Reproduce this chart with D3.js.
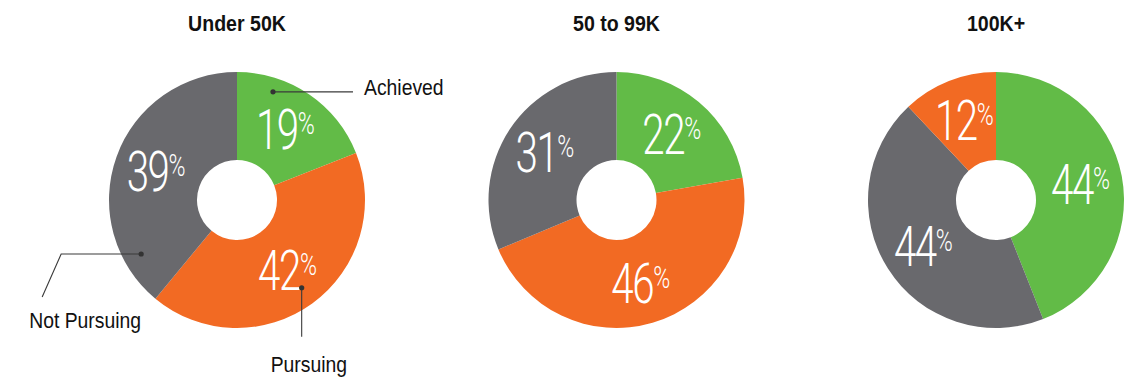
<!DOCTYPE html>
<html>
<head>
<meta charset="utf-8">
<script src="https://cdn.jsdelivr.net/npm/d3@7"></script>
<style>
  body { margin: 0; background: #fff; }
</style>
</head>
<body>
<div id="chart"></div>
<script>
// income groups, one donut each
const groups = ["Under 50K", "50 to 99K", "100K+"];
const categories = ["Achieved", "Pursuing", "Not Pursuing"];

// share (%) per category, same order as categories
const under50k = [19, 42, 39];
const from50to99k = [22, 46, 31];
const over100k = [44, 12, 44];

// clockwise order of the slices, starting at 12 o'clock
const sliceOrder = [
  ["Achieved", "Pursuing", "Not Pursuing"],
  ["Achieved", "Pursuing", "Not Pursuing"],
  ["Achieved", "Not Pursuing", "Pursuing"]
];

const width = 1135;
const height = 379;
const outerR = 128;
const innerR = 40;
const centerY = 200;

const color = d3.scaleOrdinal()
  .domain(categories)
  .range(["#62bb47", "#f26a23", "#69696d"]);

const xPos = d3.scalePoint()
  .domain(groups)
  .range([237, 996]);

const svg = d3.select("#chart")
  .append("svg")
  .attr("width", width)
  .attr("height", height);

const pie = d3.pie().sort(null).value(d => d.value);
const arc = d3.arc().innerRadius(innerR).outerRadius(outerR);
const labelArc = d3.arc().innerRadius(86).outerRadius(86);

const values = [under50k, from50to99k, over100k];

groups.forEach((g, i) => {
  const data = sliceOrder[i].map(c => ({
    category: c,
    value: values[i][categories.indexOf(c)]
  }));

  const donut = svg.append("g")
    .attr("transform", `translate(${xPos(g)},${centerY})`);

  donut.selectAll("path")
    .data(pie(data))
    .enter()
    .append("path")
    .attr("d", arc)
    .attr("fill", d => color(d.data.category));

  const labels = donut.selectAll(".pct")
    .data(pie(data))
    .enter()
    .append("g")
    .attr("class", "pct")
    .attr("transform", d => {
      const [x, y] = labelArc.centroid(d);
      return `translate(${x},${y + 20}) scale(0.72,1)`;
    });

  const txt = labels.append("text")
    .attr("text-anchor", "middle")
    .style("font-family", "Roboto, 'Liberation Sans', sans-serif")
    .style("font-weight", 300)
    .style("fill", "#fff");

  txt.append("tspan")
    .style("font-size", "56px")
    .style("letter-spacing", "-2px")
    .text(d => d.data.value);

  txt.append("tspan")
    .attr("dy", -15)
    .style("font-size", "32px")
    .text("%");

  // group title
  svg.append("g")
    .attr("transform", `translate(${xPos(g)},31) scale(0.89,1)`)
    .append("text")
    .attr("text-anchor", "middle")
    .style("font-family", "'Liberation Sans', Arial, sans-serif")
    .style("font-weight", "bold")
    .style("font-size", "22px")
    .style("fill", "#111")
    .text(g);
});

// callouts on the first donut
const callouts = [
  { category: "Achieved", angle: 18.4, radius: 114, leader: [[80, 0]], text: [91, 3] },
  { category: "Pursuing", angle: 143.6, radius: 109, leader: [[0, 49]], text: [-31, 84] },
  { category: "Not Pursuing", angle: 240.6, radius: 110, leader: [[-80, 0], [-99, 43]], text: [-112, 74] }
];

const first = svg.append("g")
  .attr("transform", `translate(${xPos(groups[0])},${centerY})`);

callouts.forEach(c => {
  const a = c.angle * Math.PI / 180;
  const x0 = Math.sin(a) * c.radius;
  const y0 = -Math.cos(a) * c.radius;
  const pts = [[x0, y0]].concat(c.leader.map(p => [x0 + p[0], y0 + p[1]]));

  first.append("path")
    .attr("d", d3.line()(pts))
    .attr("fill", "none")
    .attr("stroke", "#3a3a3a")
    .attr("stroke-width", 1.1);

  first.append("circle")
    .attr("cx", x0)
    .attr("cy", y0)
    .attr("r", 2.6)
    .attr("fill", "#333");

  first.append("g")
    .attr("transform", `translate(${x0 + c.text[0]},${y0 + c.text[1]}) scale(0.88,1)`)
    .append("text")
    .style("font-family", "'Liberation Sans', Arial, sans-serif")
    .style("font-size", "22px")
    .style("fill", "#111")
    .text(c.category);
});
</script>
</body>
</html>
